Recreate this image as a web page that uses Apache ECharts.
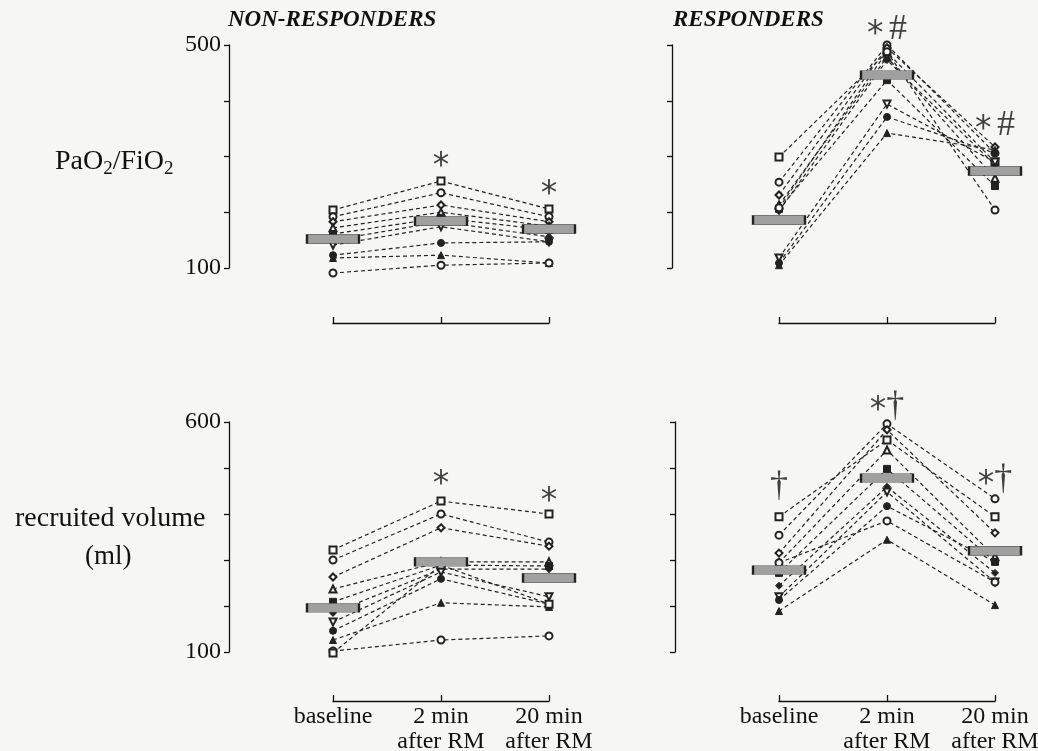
<!DOCTYPE html>
<html>
<head>
    <meta charset="utf-8">
    <title>Recruitment maneuver</title>
    <script src="https://cdn.jsdelivr.net/npm/echarts@6/dist/echarts.min.js"></script>
    <style>
        html, body { margin: 0; padding: 0; background: #f6f6f4; }
        #chart { width: 1038px; height: 751px; }
    </style>
</head>
<body>
    <div id="chart"></div>
    <script>
        // time points
        var timeLabels = ['baseline', '2 min\nafter RM', '20 min\nafter RM'];

        // PaO2/FiO2, non-responders (one row per patient)
        var nrPao2 = [
            [204, 256, 206], [192, 235, 192], [183, 213, 183], [172, 200, 175],
            [161, 190, 168], [150, 183, 156], [141, 174, 147], [123, 145, 147],
            [118, 123, 109], [91, 105, 109]
        ];
        var nrPao2Mean = [152, 184, 170];

        // PaO2/FiO2, responders
        var rPao2 = [
            [299, 487, 290], [254, 500, 306], [231, 495, 317], [213, 478, 261],
            [206, 437, 247], [202, 473, 285], [118, 394, 290], [109, 371, 306],
            [105, 342, 312], [208, 488, 204]
        ];
        var rPao2Mean = [186, 446, 274];

        // recruited volume (ml), non-responders
        var nrVol = [
            [322, 428, 400], [300, 400, 339], [263, 370, 330], [237, 296, 296],
            [209, 289, 287], [185, 280, 280], [165, 274, 220], [146, 259, 204],
            [126, 207, 198], [102, 126, 135], [98, 289, 204]
        ];
        var nrVolMean = [196, 296, 261];

        // recruited volume (ml), responders
        var rVol = [
            [394, 561, 394], [354, 596, 433], [315, 583, 359], [294, 539, 307],
            [272, 498, 296], [244, 459, 272], [220, 448, 252], [213, 417, 296],
            [189, 344, 202], [294, 385, 252]
        ];
        var rVolMean = [278, 478, 320];

        // significance marks: [panel, time index, value, text]
        var marks = [
            [0, 1, 290, '*'], [0, 2, 240, '*'],
            [1, 1, 527, '* #'], [1, 2, 356, '* #'],
            [2, 1, 474, '*'], [2, 2, 435, '*'],
            [3, 0, 459, '\u2020'], [3, 1, 633, '*\u2020'], [3, 2, 474, '*\u2020']
        ];

        var shapes = ['emptyRect', 'emptyCircle', 'emptyDiamond', 'emptyTriangle', 'rect',
                      'diamond', 'emptyTriangle', 'circle', 'triangle', 'emptyCircle', 'emptyRect'];
        var rotations = [0, 0, 0, 0, 0, 0, 180, 0, 0, 0, 0];

        var serif = 'Liberation Serif';

        var panels = [
            { data: nrPao2, mean: nrPao2Mean, left: 333, top: 45, height: 223, min: 100, max: 500, yOff: 104, xOff: 55, labels: false },
            { data: rPao2, mean: rPao2Mean, left: 779, top: 45, height: 223, min: 100, max: 500, yOff: 107, xOff: 55, labels: false },
            { data: nrVol, mean: nrVolMean, left: 333, top: 422, height: 230, min: 100, max: 600, yOff: 104, xOff: 49, labels: true },
            { data: rVol, mean: rVolMean, left: 779, top: 422, height: 230, min: 100, max: 600, yOff: 104, xOff: 49, labels: true }
        ];

        var grids = [], xAxes = [], yAxes = [], series = [];

        panels.forEach(function (p, i) {
            grids.push({ left: p.left, top: p.top, width: 216, height: p.height, outerBoundsMode: 'none', containLabel: false });
            xAxes.push({
                gridIndex: i, type: 'value', min: 0, max: 2, interval: 1,
                position: 'bottom', offset: p.xOff,
                axisLine: { onZero: false, lineStyle: { color: '#111', width: 1.3 } },
                axisTick: { inside: true, length: 6, lineStyle: { color: '#111', width: 1.3 } },
                splitLine: { show: false },
                axisLabel: {
                    show: p.labels, margin: 3, color: '#111', fontFamily: serif,
                    fontSize: 24, lineHeight: 25, hideOverlap: false,
                    formatter: function (v) { return timeLabels[v]; }
                }
            });
            var showNum = (i === 0 || i === 2);
            yAxes.push({
                gridIndex: i, type: 'value', min: p.min, max: p.max, interval: 100,
                position: 'left', offset: p.yOff,
                axisLine: { show: true, onZero: false, lineStyle: { color: '#111', width: 1.3 } },
                axisTick: { show: true, length: 5, lineStyle: { color: '#111', width: 1.3 } },
                splitLine: { show: false },
                axisLabel: {
                    show: showNum, margin: 8, color: '#111', fontFamily: serif, fontSize: 24,
                    formatter: function (v) { return (v === p.min || v === p.max) ? v : ''; }
                }
            });

            p.data.forEach(function (row, k) {
                series.push({
                    type: 'line', xAxisIndex: i, yAxisIndex: i, clip: false,
                    data: row.map(function (v, t) { return [t, v]; }),
                    symbol: shapes[k % shapes.length],
                    symbolRotate: rotations[k % rotations.length],
                    symbolSize: 7,
                    lineStyle: { color: '#222', width: 1.2, type: [4, 3] },
                    itemStyle: { color: '#222', borderColor: '#222', borderWidth: 1 },
                    z: 2
                });
            });

            series.push({
                type: 'scatter', xAxisIndex: i, yAxisIndex: i, clip: false,
                data: p.mean.map(function (v, t) { return [t, v]; }),
                symbol: 'rect', symbolSize: [52, 9],
                itemStyle: { color: '#a0a0a0', borderColor: '#222', borderWidth: 1, opacity: 1 },
                z: 5
            });
        });

        // significance annotations placed through the axes
        [0, 1, 2, 3].forEach(function (i) {
            series.push({
                type: 'scatter', xAxisIndex: i, yAxisIndex: i, clip: false,
                symbolSize: 0, silent: true,
                data: marks.filter(function (m) { return m[0] === i; }).map(function (m) {
                    return { value: [m[1], m[2]], name: m[3] };
                }),
                label: {
                    show: true, position: 'inside', offset: [0, 5], color: '#111',
                    formatter: function (d) {
                        return d.name.split('').map(function (c) {
                            if (c === '*') return '{ast|*}';
                            if (c === '#') return '{hash|#}';
                            if (c === '\u2020') return '{dag|\u2020}';
                            return '{sp| }';
                        }).join('');
                    },
                    rich: {
                        ast: { fontFamily: 'DejaVu Sans', fontSize: 33, color: '#111', lineHeight: 36 },
                        hash: { fontFamily: serif, fontSize: 36, color: '#111', lineHeight: 36, padding: [0, 0, 10, 0] },
                        dag: { fontFamily: serif, fontSize: 36, color: '#111', lineHeight: 36, padding: [0, 0, 10, 0] },
                        sp: { fontFamily: serif, fontSize: 22, lineHeight: 36 }
                    }
                },
                z: 6
            });
        });

        var chart = echarts.init(document.getElementById('chart'));
        chart.setOption({
            backgroundColor: '#f6f6f4',
            animation: false,
            title: [
                { text: 'NON-RESPONDERS', left: 223, top: 4,
                  textStyle: { fontFamily: serif, fontSize: 23, fontWeight: 'bold', fontStyle: 'italic', color: '#111' } },
                { text: 'RESPONDERS', left: 668, top: 4,
                  textStyle: { fontFamily: serif, fontSize: 23, fontWeight: 'bold', fontStyle: 'italic', color: '#111' } },
                { text: '{t|PaO}{s|2}{t|/FiO}{s|2}', left: 50, top: 140,
                  textStyle: { fontWeight: 'normal', rich: {
                      t: { fontFamily: serif, fontSize: 28, fontWeight: 'normal', color: '#111', lineHeight: 34 },
                      s: { fontFamily: serif, fontSize: 19, fontWeight: 'normal', color: '#111', lineHeight: 34, padding: [14, 0, 0, 0] }
                  } } },
                { text: 'recruited volume', left: 10, top: 500,
                  textStyle: { fontFamily: serif, fontSize: 28, fontWeight: 'normal', color: '#111' } },
                { text: '(ml)', left: 80, top: 538,
                  textStyle: { fontFamily: serif, fontSize: 27, fontWeight: 'normal', color: '#111' } }
            ],
            grid: grids,
            xAxis: xAxes,
            yAxis: yAxes,
            series: series
        });
    </script>
</body>
</html>
